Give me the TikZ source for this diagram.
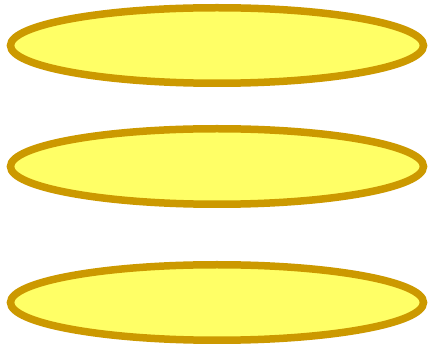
\documentclass[tikz,border=0pt]{standalone}
\usetikzlibrary{shapes.geometric}
\definecolor{fillY}{HTML}{FFFF66}
\definecolor{edgeY}{HTML}{CC9900}
\begin{document}
\begin{tikzpicture}[x=1pt,y=-1pt,
  disc/.style={ellipse,draw=edgeY,fill=fillY,line width=7.5pt,minimum width=413pt,minimum height=75.5pt,inner sep=0pt}]
\useasboundingbox (0,0) rectangle (429,347);
\node[disc] (e1) at (217,45.5) {};
\node[disc] (e2) at (217,166.5) {};
\node[disc] (e3) at (217,302.5) {};
\end{tikzpicture}
\end{document}
